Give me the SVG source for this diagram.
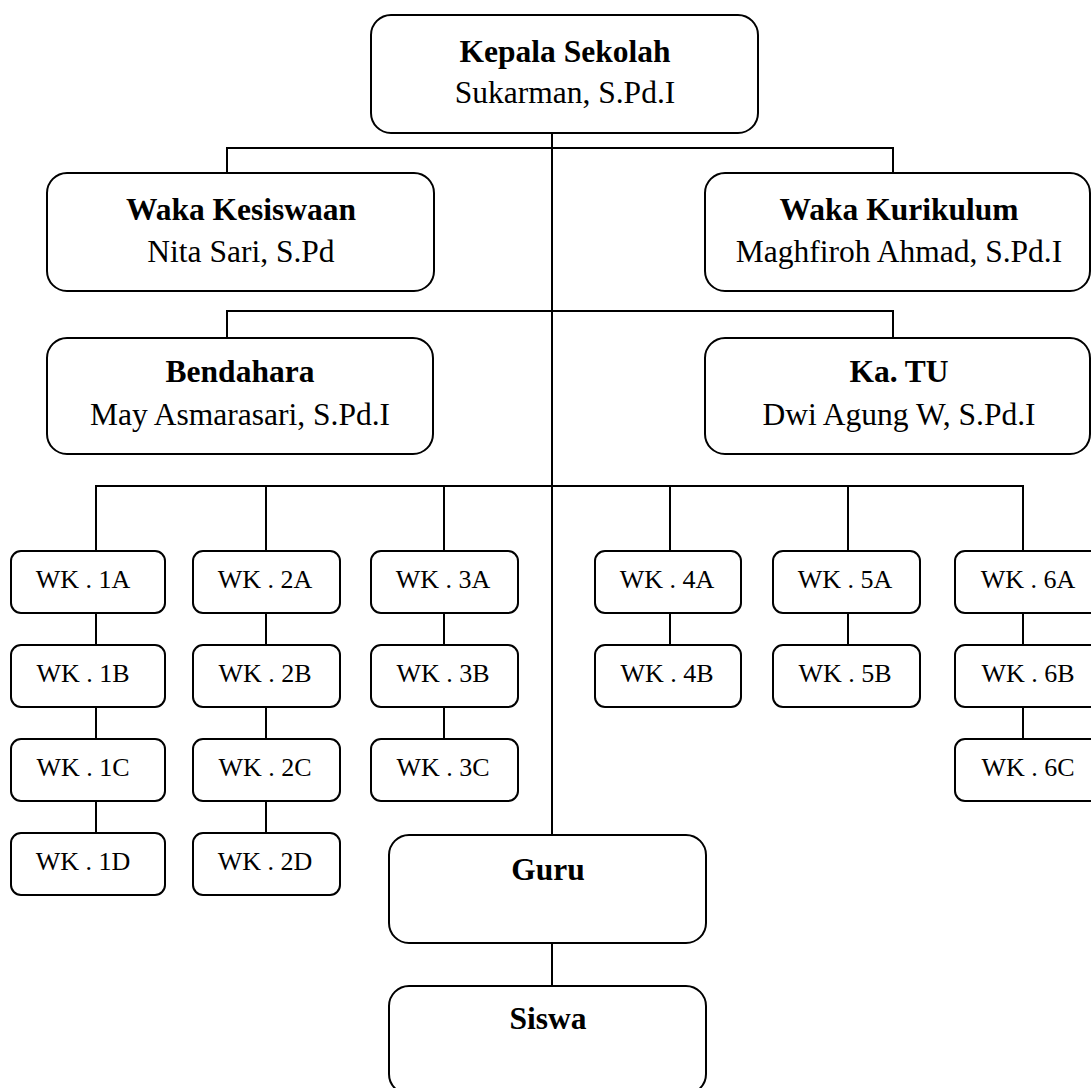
<svg xmlns="http://www.w3.org/2000/svg" width="1091" height="1088" viewBox="0 0 1091 1088">
<style>
.box{fill:#fff;stroke:#000;stroke-width:2}
.ln{fill:none;stroke:#000;stroke-width:2}
text{font-family:"Liberation Serif","Times New Roman",serif;fill:#000;text-anchor:middle}
.t{font-size:31.5px;font-weight:bold}
.n{font-size:31.5px}
.wk{font-size:26px}
</style>
<rect width="1091" height="1088" fill="#fff"/>
<g id="connectors" class="ln">
<path d="M552 133V835"/>
<path d="M227 173V148H893V173"/>
<path d="M227 338V311H893V338"/>
<path d="M96 551V486H1023V551"/>
<path d="M266 486V551"/>
<path d="M444 486V551"/>
<path d="M670 486V551"/>
<path d="M848 486V551"/>
<path d="M96 613V645M96 707V739M96 801V833"/>
<path d="M266 613V645M266 707V739M266 801V833"/>
<path d="M444 613V645M444 707V739"/>
<path d="M670 613V645"/>
<path d="M848 613V645"/>
<path d="M1023 613V645M1023 707V739"/>
<path d="M552 943V986"/>
</g>
<g id="kepala"><rect class="box" x="371" y="15" width="387" height="118" rx="20"/><text class="t" x="565" y="62">Kepala Sekolah</text><text class="n" x="565" y="103">Sukarman, S.Pd.I</text></g>
<g id="kesiswaan"><rect class="box" x="47" y="173" width="387" height="118" rx="20"/><text class="t" x="241" y="220">Waka Kesiswaan</text><text class="n" x="241" y="262">Nita Sari, S.Pd</text></g>
<g id="kurikulum"><rect class="box" x="705" y="173" width="385" height="118" rx="20"/><text class="t" x="899" y="220">Waka Kurikulum</text><text class="n" x="899" y="262">Maghfiroh Ahmad, S.Pd.I</text></g>
<g id="bendahara"><rect class="box" x="47" y="338" width="386" height="116" rx="20"/><text class="t" x="240" y="382">Bendahara</text><text class="n" x="240" y="425">May Asmarasari, S.Pd.I</text></g>
<g id="katu"><rect class="box" x="705" y="338" width="385" height="116" rx="20"/><text class="t" x="899" y="382">Ka. TU</text><text class="n" x="899" y="425">Dwi Agung W, S.Pd.I</text></g>
<g id="wk1a"><rect class="box" x="11" y="551" width="154" height="62" rx="10"/><text class="wk" x="83" y="588">WK . 1A</text></g>
<g id="wk1b"><rect class="box" x="11" y="645" width="154" height="62" rx="10"/><text class="wk" x="83" y="682">WK . 1B</text></g>
<g id="wk1c"><rect class="box" x="11" y="739" width="154" height="62" rx="10"/><text class="wk" x="83" y="776">WK . 1C</text></g>
<g id="wk1d"><rect class="box" x="11" y="833" width="154" height="62" rx="10"/><text class="wk" x="83" y="870">WK . 1D</text></g>
<g id="wk2a"><rect class="box" x="193" y="551" width="147" height="62" rx="10"/><text class="wk" x="265" y="588">WK . 2A</text></g>
<g id="wk2b"><rect class="box" x="193" y="645" width="147" height="62" rx="10"/><text class="wk" x="265" y="682">WK . 2B</text></g>
<g id="wk2c"><rect class="box" x="193" y="739" width="147" height="62" rx="10"/><text class="wk" x="265" y="776">WK . 2C</text></g>
<g id="wk2d"><rect class="box" x="193" y="833" width="147" height="62" rx="10"/><text class="wk" x="265" y="870">WK . 2D</text></g>
<g id="wk3a"><rect class="box" x="371" y="551" width="147" height="62" rx="10"/><text class="wk" x="443" y="588">WK . 3A</text></g>
<g id="wk3b"><rect class="box" x="371" y="645" width="147" height="62" rx="10"/><text class="wk" x="443" y="682">WK . 3B</text></g>
<g id="wk3c"><rect class="box" x="371" y="739" width="147" height="62" rx="10"/><text class="wk" x="443" y="776">WK . 3C</text></g>
<g id="wk4a"><rect class="box" x="595" y="551" width="146" height="62" rx="10"/><text class="wk" x="667" y="588">WK . 4A</text></g>
<g id="wk4b"><rect class="box" x="595" y="645" width="146" height="62" rx="10"/><text class="wk" x="667" y="682">WK . 4B</text></g>
<g id="wk5a"><rect class="box" x="773" y="551" width="147" height="62" rx="10"/><text class="wk" x="845" y="588">WK . 5A</text></g>
<g id="wk5b"><rect class="box" x="773" y="645" width="147" height="62" rx="10"/><text class="wk" x="845" y="682">WK . 5B</text></g>
<g id="wk6a"><rect class="box" x="955" y="551" width="147" height="62" rx="10"/><text class="wk" x="1028" y="588">WK . 6A</text></g>
<g id="wk6b"><rect class="box" x="955" y="645" width="147" height="62" rx="10"/><text class="wk" x="1028" y="682">WK . 6B</text></g>
<g id="wk6c"><rect class="box" x="955" y="739" width="147" height="62" rx="10"/><text class="wk" x="1028" y="776">WK . 6C</text></g>
<g id="guru"><rect class="box" x="389" y="835" width="317" height="108" rx="20"/><text class="t" x="548" y="880">Guru</text></g>
<g id="siswa"><rect class="box" x="389" y="986" width="317" height="108" rx="20"/><text class="t" x="548" y="1029">Siswa</text></g>
</svg>
